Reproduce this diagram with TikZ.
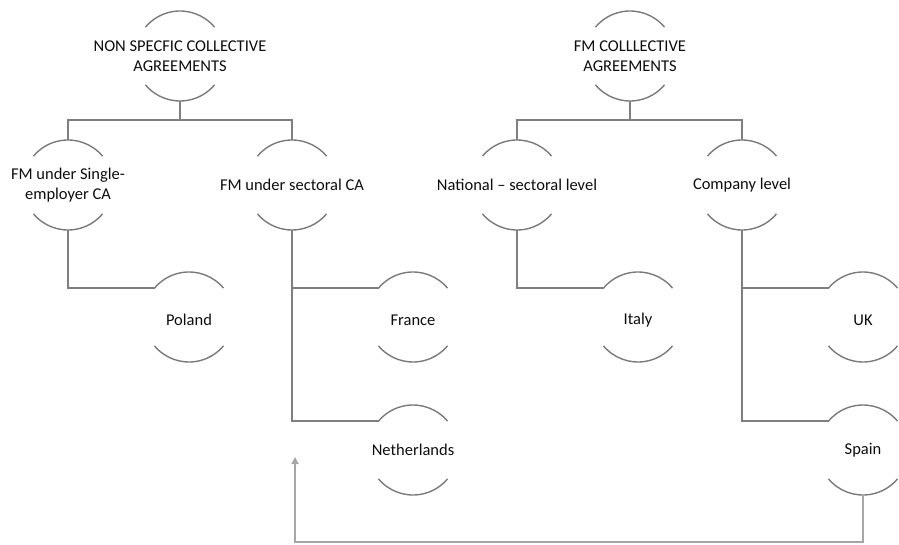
\documentclass[tikz,border=0pt]{standalone}
\usepackage{fontspec}
\setmainfont{Carlito}
\usetikzlibrary{arrows.meta,calc}
\definecolor{arcgray}{HTML}{7A7A7A}
\definecolor{linegray}{HTML}{7F7F7F}
\definecolor{arrowgray}{HTML}{A6A6A6}
\definecolor{txtcol}{HTML}{0D0D0D}
\tikzset{
  ring/.style={circle, minimum size=90pt, inner sep=0pt, outer sep=0pt, draw=none},
  lbl/.style={align=center, text=txtcol, font=\fontsize{16.5}{20}\selectfont, inner sep=0pt},
  arcline/.style={draw=arcgray, line width=1.4pt},
  conn/.style={draw=linegray, line width=1.4pt},
  backarrow/.style={draw=arrowgray, line width=2pt, -{Triangle[length=7pt,width=7pt]}},
}
\newcommand{\halfarcs}[1]{%
  \draw[arcline] (#1.40) arc[start angle=40, end angle=140, radius=45pt];
  \draw[arcline] (#1.220) arc[start angle=220, end angle=320, radius=45pt];
}
\begin{document}
\begin{tikzpicture}[x=1pt,y=1pt]
\useasboundingbox (0,0) rectangle (899,544);
% level 1
\node[ring] (t1) at (180,488) {};
\node[ring] (t2) at (630,488) {};
% level 2
\node[ring] (a) at (68,359) {};
\node[ring] (b) at (292,359) {};
\node[ring] (c) at (517,359) {};
\node[ring] (d) at (742,359) {};
% level 3
\node[ring] (pl) at (189,227) {};
\node[ring] (fr) at (413,227) {};
\node[ring] (it) at (638,227) {};
\node[ring] (uk) at (863,227) {};
\node[ring] (ne) at (413,94) {};
\node[ring] (sp) at (863,94) {};
% arcs
\halfarcs{t1}\halfarcs{t2}
\halfarcs{a}\halfarcs{b}\halfarcs{c}\halfarcs{d}
\halfarcs{pl}\halfarcs{fr}\halfarcs{it}\halfarcs{uk}\halfarcs{ne}\halfarcs{sp}
% labels
\node[lbl] (t1t) at (t1) {NON SPECFIC COLLECTIVE\\AGREEMENTS};
\node[lbl] (t2t) at (t2) {FM COLLLECTIVE\\AGREEMENTS};
\node[lbl] (at) at (a) {FM under Single-\\employer CA};
\node[lbl] (bt) at (b) {FM under sectoral CA};
\node[lbl] (ct) at (c) {National – sectoral level};
\node[lbl] (dt) at (d) {Company level};
\node[lbl, yshift=-3pt] (plt) at (pl) {Poland};
\node[lbl, yshift=-3pt] (frt) at (fr) {France};
\node[lbl, yshift=-3pt] (itt) at (it) {Italy};
\node[lbl, yshift=-3pt] (ukt) at (uk) {UK};
\node[lbl] (net) at (ne) {Netherlands};
\node[lbl] (spt) at (sp) {Spain};
% connectors level 1 -> 2
\draw[conn] (t1.south) -- ++(0,-19) -| (a.north);
\draw[conn] (t1.south) -- ++(0,-19) -| (b.north);
\draw[conn] (t2.south) -- ++(0,-19) -| (c.north);
\draw[conn] (t2.south) -- ++(0,-19) -| (d.north);
% connectors level 2 -> 3
\draw[conn] (a.south) |- (pl.140);
\draw[conn] (b.south) |- (fr.140);
\draw[conn] (b.south) |- (ne.140);
\draw[conn] (c.south) |- (it.140);
\draw[conn] (d.south) |- (uk.140);
\draw[conn] (d.south) |- (sp.140);
% feedback arrow
\coordinate (fbend) at (295,87);
\draw[backarrow] (sp.south) -- ++(0,-47) -| (fbend);
\end{tikzpicture}
\end{document}
